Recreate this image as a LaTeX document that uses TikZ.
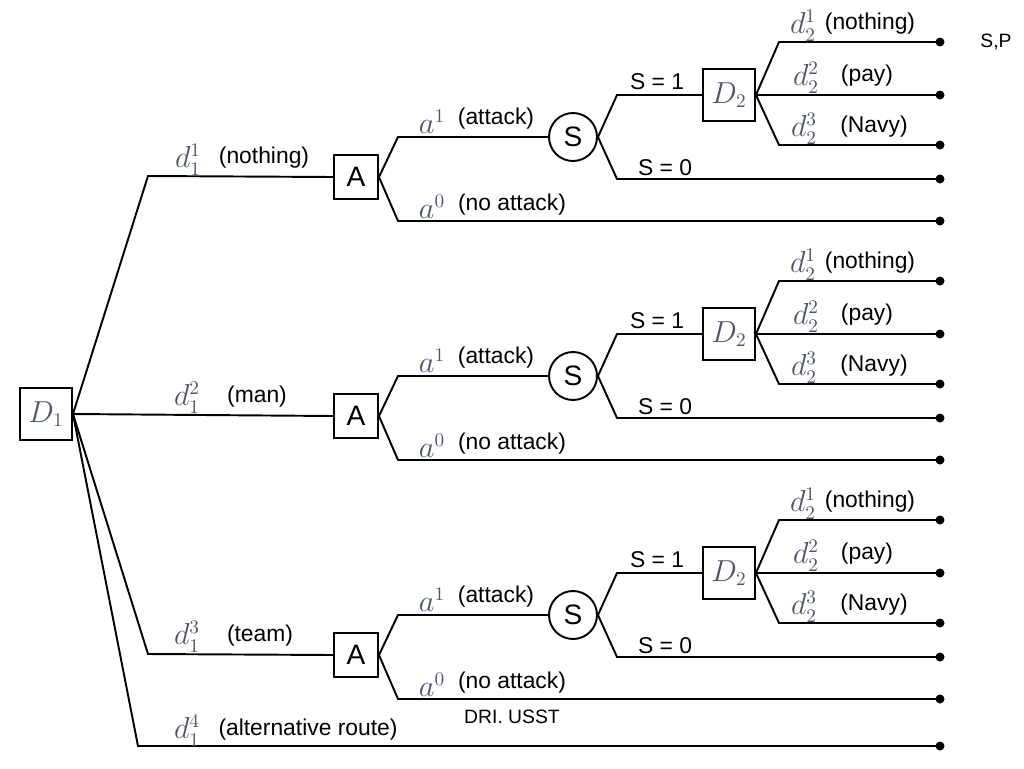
\documentclass[tikz,border=0pt]{standalone}
\usepackage{fontspec}
\setmainfont{Liberation Sans}
\definecolor{mathc}{RGB}{78,84,108}
\tikzset{
  ln/.style={line width=1.1pt},
  dbox/.style={draw=black, line width=1.1pt, minimum width=1.04cm, minimum height=1.04cm, inner sep=0pt, text=mathc, font=\fontsize{16}{19}\selectfont},
  abox/.style={draw=black, line width=1.1pt, minimum size=0.88cm, inner sep=0pt, font=\fontsize{16}{19}\selectfont},
  chance/.style={circle, draw=black, line width=1.1pt, minimum size=0.96cm, inner sep=0pt, font=\fontsize{16}{19}\selectfont},
  leaf/.style={circle, fill, inner sep=0pt, minimum size=0.18cm},
  lab/.style={inner sep=0pt, font=\fontsize{13}{15}\selectfont},
  ml/.style={inner sep=0pt, text=mathc, font=\fontsize{16}{19}\selectfont},
  small/.style={inner sep=0pt, font=\fontsize{11}{13}\selectfont}
}
\begin{document}
\begin{tikzpicture}[x=0.02cm, y=-0.02cm]
\useasboundingbox (0,0) rectangle (1024,768);

\node[dbox] (D1) at (46,414) {$D_1$};

\foreach \k/\dy in {1/0, 2/239, 3/478} {
  \node[abox] (A\k) at (356,{177+\dy}) {A};
  \node[chance] (S\k) at (573,{137+\dy}) {S};
  \node[dbox] (DD\k) at (729,{95+\dy}) {$D_2$};
  \coordinate (ua\k) at (398,{137+\dy});
  \coordinate (la\k) at (398,{221+\dy});
  \coordinate (us\k) at (617,{95+\dy});
  \coordinate (ls\k) at (617,{179+\dy});
  \coordinate (ud\k) at (779,{42+\dy});
  \coordinate (ld\k) at (779,{145+\dy});
  \node[leaf] (ea\k) at (940,{42+\dy}) {};
  \node[leaf] (eb\k) at (940,{95+\dy}) {};
  \node[leaf] (ec\k) at (940,{145+\dy}) {};
  \node[leaf] (ed\k) at (940,{179+\dy}) {};
  \node[leaf] (ee\k) at (940,{221+\dy}) {};
  \draw[ln] (A\k.east) -- (ua\k) -- (S\k.west);
  \draw[ln] (A\k.east) -- (la\k) -- (ee\k.center);
  \draw[ln] (S\k.east) -- (us\k) -- (DD\k.west);
  \draw[ln] (S\k.east) -- (ls\k) -- (ed\k.center);
  \draw[ln] (DD\k.east) -- (ud\k) -- (ea\k.center);
  \draw[ln] (DD\k.east) -- (eb\k.center);
  \draw[ln] (DD\k.east) -- (ld\k) -- (ec\k.center);
  \node[ml] (m1\k) at (803,{26+\dy}) {$d_2^1$};
  \node[lab] (t1\k) at (870,{24+\dy}) {(nothing)};
  \node[ml] (m2\k) at (806,{78+\dy}) {$d_2^2$};
  \node[lab] (t2\k) at (867,{76+\dy}) {(pay)};
  \node[ml] (m3\k) at (804,{129+\dy}) {$d_2^3$};
  \node[lab] (t3\k) at (874,{127+\dy}) {(Navy)};
  \node[lab] (s1\k) at (657,{82+\dy}) {S = 1};
  \node[lab] (s0\k) at (665,{168+\dy}) {S = 0};
  \node[ml] (ma\k) at (432,{122+\dy}) {$a^1$};
  \node[lab] (ta\k) at (496,{119+\dy}) {(attack)};
  \node[ml] (mb\k) at (432,{207+\dy}) {$a^0$};
  \node[lab] (tb\k) at (512,{205+\dy}) {(no attack)};
}

\coordinate (b1) at (148,176);
\coordinate (b3) at (148,654);
\coordinate (b4) at (138,746);
\node[leaf] (e4) at (940,746) {};
\draw[ln] (D1.east) -- (b1) -- (A1.west);
\draw[ln] (D1.east) -- (A2.west);
\draw[ln] (D1.east) -- (b3) -- (A3.west);
\draw[ln] (D1.east) -- (b4) -- (e4.center);

\node[ml] (n1) at (188,160) {$d_1^1$};
\node[lab] (l1) at (264,158) {(nothing)};
\node[ml] (n2) at (187,398) {$d_1^2$};
\node[lab] (l2) at (257,397) {(man)};
\node[ml] (n3) at (187,637) {$d_1^3$};
\node[lab] (l3) at (260,636) {(team)};
\node[ml] (n4) at (187,731) {$d_1^4$};
\node[lab] (l4) at (308,730) {(alternative route)};
\node[small] (dri) at (512,717) {DRI. USST};
\node[small] (sp) at (996,42) {S,P};
\end{tikzpicture}
\end{document}
